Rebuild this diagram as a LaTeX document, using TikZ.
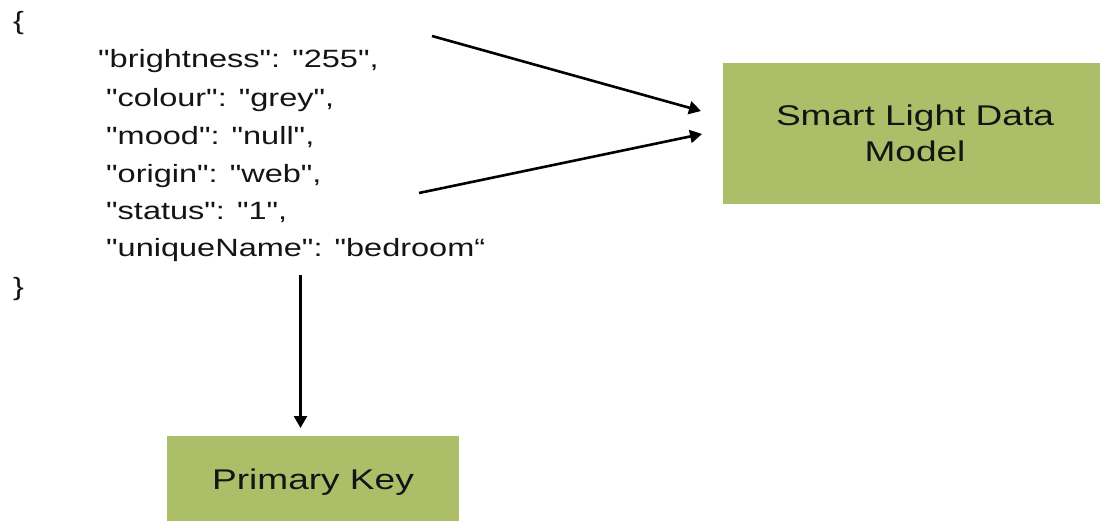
\documentclass[tikz,border=0pt]{standalone}
\usepackage{fontspec}
\setmainfont{Liberation Sans}[FakeStretch=1.3, Ligatures=TeXOff]
\usetikzlibrary{arrows.meta}
\definecolor{boxgreen}{RGB}{173,190,104}
\definecolor{ink}{RGB}{20,20,20}
\begin{document}
\begin{tikzpicture}[x=1pt,y=-1pt,
  json/.style={anchor=base west, inner sep=0pt, text=ink, font=\fontsize{25}{30}\selectfont},
  greenbox/.style={fill=boxgreen, draw=none, align=center, inner sep=0pt, text=ink,
    font=\fontsize{28.5}{36}\selectfont},
  arr/.style={line width=2.6pt, -{Triangle[length=12pt,width=13pt]}}]
\useasboundingbox (0,0) rectangle (1100,521);
\begin{scope}
\clip (0,0) rectangle (1100,521);
% target boxes
\node[greenbox, minimum width=384pt, minimum height=141pt] (model) at (915,133.5) {Smart Light Data\\Model};
\node[greenbox, minimum width=292pt, minimum height=92pt] (pkey) at (313,482) {Primary Key};
% JSON record
\node[json] (open) at (13,30) {\{};
\node[json] (l1) at (98,68) {"brightness": "255",};
\node[json] (l2) at (106,107) {"colour": "grey",};
\node[json] (l3) at (106,145) {"mood": "null",};
\node[json] (l4) at (106,183) {"origin": "web",};
\node[json] (l5) at (106,220) {"status": "1",};
\node[json] (l6) at (106,257) {"uniqueName": "bedroom“};
\node[json] (close) at (13,295) {\}};
% connectors
\coordinate (a1s) at (432,36);
\coordinate (a1e) at (701,111);
\coordinate (a2s) at (419,193);
\coordinate (a2e) at (702,134);
\coordinate (a3s) at (300.5,275);
\coordinate (a3e) at (300.5,428);
\draw[arr] (a1s) -- (a1e);
\draw[arr] (a2s) -- (a2e);
\draw[arr] (a3s) -- (a3e);
\end{scope}
\end{tikzpicture}
\end{document}
